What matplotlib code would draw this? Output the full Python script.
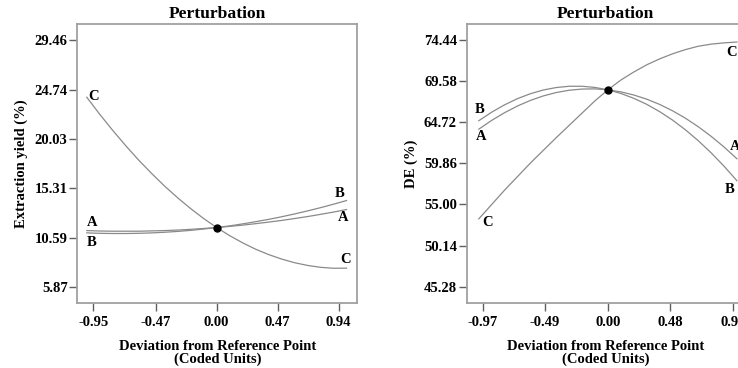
import numpy as np
import matplotlib
matplotlib.use("Agg")
import matplotlib.pyplot as plt

# coded deviation from the reference point, shared by every curve
dev = [-1.0, -0.9, -0.8, -0.7, -0.6, -0.5, -0.4, -0.3, -0.2, -0.1, 0.0,
       0.1, 0.2, 0.3, 0.4, 0.5, 0.6, 0.7, 0.8, 0.9, 1.0]

# Extraction yield (%) perturbation curves
yield_A = [11.26, 11.22, 11.20, 11.20, 11.20, 11.23, 11.26, 11.31, 11.38, 11.46, 11.55,
           11.66, 11.78, 11.92, 12.07, 12.23, 12.41, 12.60, 12.81, 13.03, 13.27]
yield_B = [11.04, 11.00, 10.98, 10.98, 11.00, 11.04, 11.10, 11.18, 11.28, 11.41, 11.55,
           11.71, 11.90, 12.11, 12.33, 12.58, 12.85, 13.14, 13.45, 13.78, 14.13]
yield_C = [24.00, 22.37, 20.83, 19.37, 17.99, 16.71, 15.50, 14.39, 13.36, 12.41, 11.55,
           10.78, 10.09, 9.48, 8.97, 8.54, 8.19, 7.93, 7.75, 7.66, 7.67]
yield_ref = 11.55

# DE (%) perturbation curves
de_A = [63.90, 64.94, 65.85, 66.64, 67.30, 67.83, 68.23, 68.50, 68.64, 68.66, 68.55,
        68.31, 67.94, 67.45, 66.83, 66.08, 65.20, 64.19, 63.05, 61.79, 60.40]
de_B = [64.90, 65.91, 66.78, 67.51, 68.09, 68.53, 68.82, 68.97, 68.97, 68.83, 68.55,
        68.12, 67.55, 66.84, 65.98, 64.98, 63.83, 62.54, 61.10, 59.52, 57.80]
de_C = [53.30, 55.00, 56.70, 58.30, 59.90, 61.40, 62.90, 64.35, 65.80, 67.25, 68.55,
        69.70, 70.65, 71.50, 72.20, 72.80, 73.30, 73.70, 73.95, 74.10, 74.20]
de_ref = 68.55

yield_xticks = [-0.95, -0.47, 0.00, 0.47, 0.94]
yield_yticks = [5.87, 10.59, 15.31, 20.03, 24.74, 29.46]
de_xticks = [-0.97, -0.49, 0.00, 0.48, 0.97]
de_yticks = [45.28, 50.14, 55.00, 59.86, 64.72, 69.58, 74.44]

plt.rcParams['font.family'] = ['Liberation Serif', 'DejaVu Serif']
plt.rcParams['font.weight'] = 'bold'
plt.rcParams['axes.labelweight'] = 'bold'
plt.rcParams['axes.titleweight'] = 'bold'
plt.rcParams['font.size'] = 10.5

line_col = '#8a8a8a'
frame_col = '#a0a0a0'

fig = plt.figure(figsize=(7.38, 3.68), dpi=100)
ax1 = fig.add_axes([77.3 / 738, 65 / 368, 280 / 738, 279 / 368])
ax2 = fig.add_axes([466.7 / 738, 65 / 368, 278 / 738, 279 / 368])


def style(ax, xticks, yticks, ylabel, ypad):
    for s in ax.spines.values():
        s.set_color(frame_col)
        s.set_linewidth(1.3)
    ax.set_xticks(xticks)
    ax.set_xticklabels([f"{t:.2f}" for t in xticks])
    ax.set_yticks(yticks)
    ax.set_yticklabels([f"{t:.2f}" for t in yticks])
    ax.tick_params(direction='out', length=6, width=1, color='#606060', pad=1)
    ax.tick_params(axis='x', pad=3)
    ax.set_title("Perturbation", pad=4)
    ax.set_xlabel("Deviation from Reference Point\n(Coded Units)", labelpad=8,
                  linespacing=1.0)
    ax.set_ylabel(ylabel, labelpad=ypad)


# left panel: extraction yield
for ys in (yield_A, yield_B, yield_C):
    ax1.plot(dev, ys, color=line_col, lw=0.9)
ax1.plot([0], [yield_ref], 'o', color='black', ms=5)
ax1.set_xlim(-1.073, 1.083)
ax1.set_ylim(4.34, 31.0)
style(ax1, yield_xticks, yield_yticks, "Extraction yield (%)", 5)
for txt, x, y in [("C", -0.95, 24.1), ("A", -0.96, 12.05), ("B", -0.96, 10.14),
                  ("B", 0.95, 14.8), ("A", 0.975, 12.47), ("C", 0.99, 8.46)]:
    ax1.text(x, y, txt, ha='center', va='center')

# right panel: DE (runs past the right edge of the figure)
for ys in (de_A, de_B, de_C):
    ax2.plot(dev, ys, color=line_col, lw=0.9)
ax2.plot([0], [de_ref], 'o', color='black', ms=5)
ax2.set_xlim(-1.094, 1.06)
ax2.set_ylim(43.35, 76.33)
style(ax2, de_xticks, de_yticks, "DE (%)", 4)
for txt, x, y in [("B", -0.995, 66.23), ("A", -0.98, 62.99), ("C", -0.934, 52.82),
                  ("C", 0.962, 72.93), ("A", 0.988, 61.81), ("B", 0.944, 56.79)]:
    ax2.text(x, y, txt, ha='center', va='center')

fig.savefig("out.png", dpi=100)
